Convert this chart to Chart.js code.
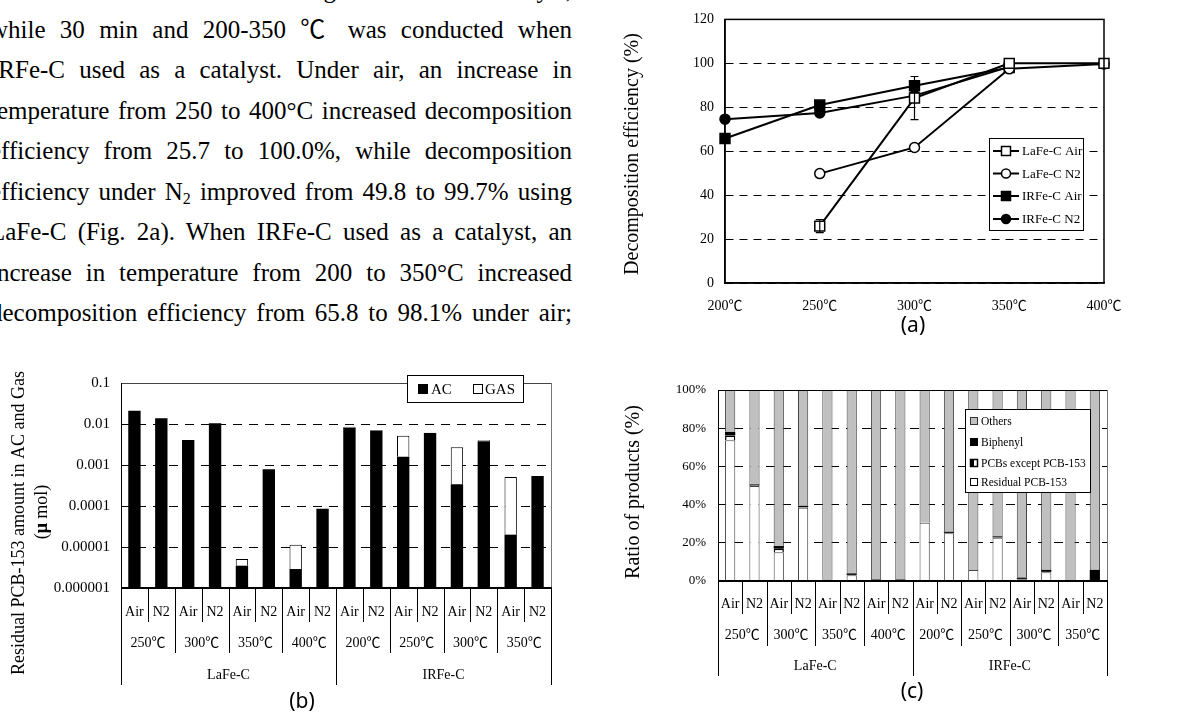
<!DOCTYPE html>
<html>
<head>
<meta charset="utf-8">
<script src="https://cdn.jsdelivr.net/npm/chart.js@4.4.1/dist/chart.umd.min.js"></script>
<style>
  body { margin: 0; width: 1182px; height: 717px; overflow: hidden; background: #fff; position: relative;
         font-family: "Liberation Serif", "Noto Sans CJK JP", serif; color: #000; }
  .ln { position: absolute; left: -10px; width: 582px; height: 40px; line-height: 40px; font-size: 25px;
        text-align: justify; text-align-last: justify; }
  .ln sub { font-size: 16px; line-height: 0; vertical-align: -4px; }
  canvas { position: absolute; }
</style>
</head>
<body>
<div class="ln" style="top:-30px">for 30 min at 250-400 ℃ using LaFe-C as a catalyst,</div>
<div class="ln" style="top:10px">while 30 min and 200-350 ℃ was conducted when</div>
<div class="ln" style="top:50px">IRFe-C used as a catalyst. Under air, an increase in</div>
<div class="ln" style="top:91px">temperature from 250 to 400°C increased decomposition</div>
<div class="ln" style="top:131px">efficiency from 25.7 to 100.0%, while decomposition</div>
<div class="ln" style="top:172px">efficiency under N<sub>2</sub> improved from 49.8 to 99.7% using</div>
<div class="ln" style="top:212px">LaFe-C (Fig. 2a). When IRFe-C used as a catalyst, an</div>
<div class="ln" style="top:253px">increase in temperature from 200 to 350°C increased</div>
<div class="ln" style="top:293px">decomposition efficiency from 65.8 to 98.1% under air;</div>

<canvas id="chartA" width="582" height="345" style="left:600px;top:0px"></canvas>
<canvas id="chartB" width="600" height="387" style="left:0px;top:330px"></canvas>
<canvas id="chartC" width="582" height="387" style="left:600px;top:330px"></canvas>

<script>
// (a) decomposition efficiency
var tempsA = ['200℃', '250℃', '300℃', '350℃', '400℃'];
var lafeAir = [null, 25.9, 84.2, 100, 100];
var lafeAirErr = [null, 3.0, 9.8, null, null];
var lafeN2 = [null, 49.8, 61.7, 97.5, 99.7];
var irfeAir = [65.8, 81.0, 89.8, 98.1, null];
var irfeN2 = [74.6, 77.4, 85.3, 98.4, null];
var ticksA = [0, 20, 40, 60, 80, 100, 120];

// (b) residual PCB-153, log scale
var condB = ['Air', 'N2', 'Air', 'N2', 'Air', 'N2', 'Air', 'N2', 'Air', 'N2', 'Air', 'N2', 'Air', 'N2', 'Air', 'N2'];
var tempB = ['250℃', '300℃', '350℃', '400℃', '200℃', '250℃', '300℃', '350℃'];
var catB = ['LaFe-C', 'IRFe-C'];
var acB = [0.021, 0.0138, 0.0041, 0.0105, 0.0000035, 0.00079, 0.0000029, 0.000086, 0.0082, 0.0069, 0.00159, 0.0060, 0.00034, 0.0038, 0.00002, 0.00054];
var gasB = [null, null, null, null, 0.0000016, null, 0.0000085, null, 0.0004, 0.0002, 0.0036, 0.0001, 0.00236, 0.0002, 0.00049, null];
var ticksB = [0.000001, 0.00001, 0.0001, 0.001, 0.01, 0.1];
var tickLabelsB = ['0.000001', '0.00001', '0.0001', '0.001', '0.01', '0.1'];

// (c) ratio of products
var residualC = [73.7, 49.8, 15.1, 38.3, 0.2, 3.0, 0.2, 0.2, 30.5, 25.0, 5.8, 22.6, 0.9, 4.6, 0.2, 0.3];
var pcbsC = [2.5, 0.2, 1.8, 0.3, null, 0.2, null, null, null, 0.2, null, 0.2, 0.2, 0.2, null, null];
var biphenylC = [1.9, 0.6, 1.4, 0.8, 0.4, 0.8, 0.6, 0.6, null, 0.6, null, 0.6, 0.7, 1.0, 0.3, 5.5];
var othersC = [21.9, 49.4, 81.7, 60.6, 99.4, 96.0, 99.2, 99.2, 69.5, 74.2, 94.2, 76.6, 98.2, 94.2, 99.5, 94.2];
var ticksC = [0, 20, 40, 60, 80, 100];
var tickLabelsC = ['0%', '20%', '40%', '60%', '80%', '100%'];

var SERIF = '"Liberation Serif", "Noto Sans CJK JP", serif';
Chart.defaults.color = '#000';

function vText(ctx, text, x, y, font) {
  ctx.save();
  ctx.translate(x, y);
  ctx.rotate(-Math.PI / 2);
  ctx.font = font;
  ctx.fillStyle = '#000';
  ctx.textAlign = 'center';
  ctx.textBaseline = 'middle';
  ctx.fillText(text, 0, 0);
  ctx.restore();
}

function marker(ctx, style, x, y, filled) {
  ctx.save();
  ctx.fillStyle = filled ? '#000' : '#fff';
  ctx.strokeStyle = '#000';
  ctx.lineWidth = 1.5;
  ctx.beginPath();
  if (style === 'rect') ctx.rect(x - 4.5, y - 4.5, 9, 9);
  else ctx.arc(x, y, 4.5, 0, Math.PI * 2);
  ctx.fill();
  ctx.stroke();
  ctx.restore();
}

var extrasA = {
  id: 'extrasA',
  afterDatasetsDraw: function (chart) {
    var ctx = chart.ctx, x = chart.scales.x, y = chart.scales.y, a = chart.chartArea;
    ctx.save();
    ctx.strokeStyle = '#000';
    ctx.lineWidth = 1.5;
    ctx.strokeRect(a.left, a.top, a.right - a.left, a.bottom - a.top);
    // error bars on LaFe-C Air
    ctx.lineWidth = 1.2;
    lafeAirErr.forEach(function (e, i) {
      if (!e) return;
      var px = x.getPixelForValue(i);
      var y1 = y.getPixelForValue(lafeAir[i] + e), y2 = y.getPixelForValue(lafeAir[i] - e);
      ctx.beginPath();
      ctx.moveTo(px, y1); ctx.lineTo(px, y2);
      ctx.moveTo(px - 4, y1); ctx.lineTo(px + 4, y1);
      ctx.moveTo(px - 4, y2); ctx.lineTo(px + 4, y2);
      ctx.stroke();
    });
    ctx.restore();
  },
  afterDraw: function (chart) {
    var ctx = chart.ctx;
    ctx.save();
    // legend box
    ctx.fillStyle = '#fff';
    ctx.fillRect(389, 138, 94, 92);
    ctx.strokeStyle = '#000';
    ctx.lineWidth = 1;
    ctx.strokeRect(389.5, 138.5, 94, 92);
    var rows = [151, 173.5, 196, 219];
    chart.data.datasets.forEach(function (ds, i) {
      var yy = rows[i];
      ctx.strokeStyle = '#000';
      ctx.lineWidth = 2;
      ctx.beginPath(); ctx.moveTo(393, yy); ctx.lineTo(419, yy); ctx.stroke();
      marker(ctx, ds.pointStyle, 406, yy, ds.pointBackgroundColor === '#000');
      ctx.fillStyle = '#000';
      ctx.font = '13px ' + SERIF;
      ctx.textAlign = 'left';
      ctx.textBaseline = 'middle';
      ctx.fillText(ds.label, 422, yy + 1);
    });
    vText(ctx, 'Decomposition efficiency (%)', 33, 154, '20px ' + SERIF);
    ctx.fillStyle = '#000';
    ctx.font = '21px "Noto Sans", sans-serif';
    ctx.textAlign = 'center';
    ctx.textBaseline = 'middle';
    ctx.fillText('(a)', 313, 326);
    ctx.restore();
  }
};

function groupAxis(conds, temps, cats, rowY, sep, size) {
  return {
    id: 'groupAxis',
    afterDraw: function (chart) {
      var ctx = chart.ctx, x = chart.scales.x, a = chart.chartArea;
      var n = conds.length;
      var half = (x.getPixelForValue(1) - x.getPixelForValue(0)) / 2;
      function edge(i) { return i < n ? x.getPixelForValue(i) - half : x.getPixelForValue(n - 1) + half; }
      ctx.save();
      ctx.strokeStyle = '#000';
      ctx.lineWidth = 1;
      for (var i = 0; i <= n; i++) {
        var d = i % 8 === 0 ? sep[2] : (i % 2 === 0 ? sep[1] : sep[0]);
        var ex = Math.round(edge(i)) + 0.5;
        ctx.beginPath(); ctx.moveTo(ex, a.bottom); ctx.lineTo(ex, a.bottom + d); ctx.stroke();
      }
      ctx.fillStyle = '#000';
      ctx.font = size + 'px ' + SERIF;
      ctx.textAlign = 'center';
      ctx.textBaseline = 'middle';
      conds.forEach(function (c, i) { ctx.fillText(c, x.getPixelForValue(i), a.bottom + rowY[0]); });
      temps.forEach(function (t, j) { ctx.fillText(t, (edge(2 * j) + edge(2 * j + 2)) / 2, a.bottom + rowY[1]); });
      cats.forEach(function (c, k) { ctx.fillText(c, (edge(8 * k) + edge(8 * k + 8)) / 2, a.bottom + rowY[2]); });
      ctx.restore();
    }
  };
}

function frame(topColor, rightColor) {
  return {
    id: 'frame',
    afterDatasetsDraw: function (chart) {
      var ctx = chart.ctx, a = chart.chartArea;
      ctx.save();
      ctx.lineWidth = 1;
      ctx.strokeStyle = topColor;
      ctx.beginPath(); ctx.moveTo(a.left, a.top + 0.5); ctx.lineTo(a.right, a.top + 0.5); ctx.stroke();
      ctx.strokeStyle = rightColor;
      ctx.beginPath(); ctx.moveTo(a.right + 0.5, a.top); ctx.lineTo(a.right + 0.5, a.bottom); ctx.stroke();
      ctx.strokeStyle = '#000';
      ctx.beginPath(); ctx.moveTo(a.left + 0.5, a.top); ctx.lineTo(a.left + 0.5, a.bottom); ctx.stroke();
      ctx.lineWidth = 2;
      ctx.beginPath(); ctx.moveTo(a.left, a.bottom); ctx.lineTo(a.right + 1, a.bottom); ctx.stroke();
      ctx.restore();
    }
  };
}

new Chart(document.getElementById('chartA'), {
  type: 'line',
  data: {
    labels: tempsA,
    datasets: [
      { label: 'LaFe-C Air', data: lafeAir, pointStyle: 'rect', pointRadius: 7, pointBackgroundColor: '#fff' },
      { label: 'LaFe-C N2', data: lafeN2, pointStyle: 'circle', pointRadius: 5, pointBackgroundColor: '#fff' },
      { label: 'IRFe-C Air', data: irfeAir, pointStyle: 'rect', pointRadius: 7, pointBackgroundColor: '#000' },
      { label: 'IRFe-C N2', data: irfeN2, pointStyle: 'circle', pointRadius: 5, pointBackgroundColor: '#000' }
    ].map(function (d) {
      d.borderColor = '#000'; d.borderWidth = 2; d.pointBorderColor = '#000'; d.pointBorderWidth = 1.5;
      d.spanGaps = false; d.clip = false;
      return d;
    })
  },
  options: {
    responsive: false,
    animation: false,
    layout: { padding: { top: 19, right: 78, left: 0, bottom: 0 } },
    plugins: { legend: { display: false }, tooltip: { enabled: false } },
    scales: {
      x: {
        grid: { display: false },
        border: { color: '#000', width: 1.5 },
        ticks: { font: { family: SERIF, size: 14 }, color: '#000', padding: 7, maxRotation: 0, autoSkip: false },
        afterFit: function (s) { s.height = 62; }
      },
      y: {
        min: 0, max: 120,
        afterBuildTicks: function (s) { s.ticks = ticksA.map(function (v) { return { value: v }; }); },
        grid: { color: '#000', lineWidth: 1, drawTicks: false },
        border: { color: '#000', width: 1.5, dash: [8, 6] },
        ticks: { font: { family: SERIF, size: 14 }, color: '#000', padding: 11 },
        afterFit: function (s) { s.width = 125; }
      }
    }
  },
  plugins: [extrasA]
});

var extrasB = {
  id: 'extrasB',
  afterDraw: function (chart) {
    var ctx = chart.ctx;
    ctx.save();
    ctx.fillStyle = '#fff';
    ctx.fillRect(407, 45, 116, 27);
    ctx.strokeStyle = '#000';
    ctx.lineWidth = 1;
    ctx.strokeRect(407.5, 45.5, 116, 27);
    ctx.fillStyle = '#000';
    ctx.fillRect(418, 54, 10, 10);
    ctx.strokeRect(473.5, 54.5, 9, 9);
    ctx.font = '15px ' + SERIF;
    ctx.textAlign = 'left';
    ctx.textBaseline = 'middle';
    ctx.fillText('AC', 431, 60);
    ctx.fillText('GAS', 485, 60);
    // axis title, two lines with bold mu
    vText(ctx, 'Residual PCB-153 amount in AC and Gas', 19, 193, '18px ' + SERIF);
    ctx.translate(42, 182);
    ctx.rotate(-Math.PI / 2);
    ctx.textBaseline = 'middle';
    var parts = [['(', '18px '], ['μ', 'bold 18px '], [' mol)', '18px ']];
    var total = 0;
    parts.forEach(function (p) { ctx.font = p[1] + SERIF; total += ctx.measureText(p[0]).width; });
    var cx = -total / 2;
    parts.forEach(function (p) { ctx.font = p[1] + SERIF; ctx.fillText(p[0], cx, 0); cx += ctx.measureText(p[0]).width; });
    ctx.restore();
    ctx.save();
    ctx.fillStyle = '#000';
    ctx.font = '21px "Noto Sans", sans-serif';
    ctx.textAlign = 'center';
    ctx.textBaseline = 'middle';
    ctx.fillText('(b)', 302, 372);
    ctx.restore();
  }
};

new Chart(document.getElementById('chartB'), {
  type: 'bar',
  data: {
    labels: condB,
    datasets: [
      { label: 'AC', data: acB, backgroundColor: '#000', borderWidth: 0 },
      { label: 'GAS', data: gasB, backgroundColor: '#fff', borderColor: '#000', borderWidth: 1 }
    ]
  },
  options: {
    responsive: false,
    animation: false,
    barPercentage: 0.46,
    categoryPercentage: 1,
    layout: { padding: { top: 53, right: 49, left: 0, bottom: 0 } },
    plugins: { legend: { display: false }, tooltip: { enabled: false } },
    scales: {
      x: {
        stacked: true,
        grid: { display: false },
        border: { display: false },
        ticks: { display: false },
        afterFit: function (s) { s.height = 129; }
      },
      y: {
        type: 'logarithmic',
        stacked: true,
        min: 0.000001, max: 0.1,
        afterBuildTicks: function (s) { s.ticks = ticksB.map(function (v) { return { value: v }; }); },
        grid: {
          drawTicks: false, lineWidth: 1,
          color: function (c) { return (c.index === 0 || c.index === ticksB.length - 1) ? 'rgba(0,0,0,0)' : '#000'; }
        },
        border: { display: false, dash: [9, 7] },
        ticks: {
          font: { family: SERIF, size: 15 }, color: '#000', padding: 11,
          callback: function (v, i) { return tickLabelsB[i]; }
        },
        afterFit: function (s) { s.width = 121; }
      }
    }
  },
  plugins: [frame('#444', '#777'), groupAxis(condB, tempB, catB, [24, 55, 87], [34, 65, 97], 14), extrasB]
});

var extrasC = {
  id: 'extrasC',
  afterDraw: function (chart) {
    var ctx = chart.ctx;
    ctx.save();
    ctx.fillStyle = '#fff';
    ctx.fillRect(365, 79, 125, 83);
    ctx.strokeStyle = '#000';
    ctx.lineWidth = 1;
    ctx.strokeRect(365.5, 79.5, 125, 83);
    var rows = [91, 112, 133, 152];
    var names = ['Others', 'Biphenyl', 'PCBs except PCB-153', 'Residual PCB-153'];
    var ix = 370;
    ctx.fillStyle = '#c0c0c0'; ctx.fillRect(ix, rows[0] - 4, 8, 8);
    ctx.strokeStyle = '#333'; ctx.strokeRect(ix + 0.5, rows[0] - 3.5, 7, 7);
    ctx.fillStyle = '#000'; ctx.fillRect(ix, rows[1] - 4, 8, 8);
    ctx.fillStyle = '#fff'; ctx.fillRect(ix, rows[2] - 4, 8, 8);
    ctx.fillStyle = '#000'; ctx.fillRect(ix, rows[2] - 4, 4, 8);
    ctx.strokeStyle = '#000'; ctx.lineWidth = 1.5; ctx.strokeRect(ix + 0.5, rows[2] - 3.5, 7, 7);
    ctx.lineWidth = 1; ctx.strokeRect(ix + 0.5, rows[3] - 3.5, 7, 7);
    ctx.fillStyle = '#000';
    ctx.font = '11.5px ' + SERIF;
    ctx.textAlign = 'left';
    ctx.textBaseline = 'middle';
    names.forEach(function (t, i) { ctx.fillText(t, ix + 11, rows[i] + 1); });
    vText(ctx, 'Ratio of products (%)', 34, 162, '20px ' + SERIF);
    ctx.fillStyle = '#000';
    ctx.font = '21px "Noto Sans", sans-serif';
    ctx.textAlign = 'center';
    ctx.textBaseline = 'middle';
    ctx.fillText('(c)', 312, 362);
    ctx.restore();
  }
};

new Chart(document.getElementById('chartC'), {
  type: 'bar',
  data: {
    labels: condB,
    datasets: [
      { label: 'Residual PCB-153', data: residualC, backgroundColor: '#fff', borderColor: '#444', borderWidth: 1 },
      { label: 'PCBs except PCB-153', data: pcbsC, backgroundColor: '#fff', borderColor: '#000', borderWidth: 1.5 },
      { label: 'Biphenyl', data: biphenylC, backgroundColor: '#000', borderWidth: 0 },
      { label: 'Others', data: othersC, backgroundColor: '#c0c0c0', borderColor: '#444', borderWidth: 1 }
    ]
  },
  options: {
    responsive: false,
    animation: false,
    barPercentage: 0.42,
    categoryPercentage: 1,
    layout: { padding: { top: 60, right: 75, left: 0, bottom: 0 } },
    plugins: { legend: { display: false }, tooltip: { enabled: false } },
    scales: {
      x: {
        stacked: true,
        grid: { display: false },
        border: { display: false },
        ticks: { display: false },
        afterFit: function (s) { s.height = 136; }
      },
      y: {
        stacked: true,
        min: 0, max: 100,
        afterBuildTicks: function (s) { s.ticks = ticksC.map(function (v) { return { value: v }; }); },
        grid: {
          drawTicks: false, lineWidth: 1,
          color: function (c) { return (c.index === 0 || c.index === ticksC.length - 1) ? 'rgba(0,0,0,0)' : '#000'; }
        },
        border: { display: false, dash: [9, 7] },
        ticks: {
          font: { family: SERIF, size: 13 }, color: '#000', padding: 12,
          callback: function (v, i) { return tickLabelsC[i]; }
        },
        afterFit: function (s) { s.width = 118; }
      }
    }
  },
  plugins: [frame('#000', '#777'), groupAxis(condB, tempB, catB, [23, 54, 85], [33, 65, 95], 14), extrasC]
});
</script>
</body>
</html>
